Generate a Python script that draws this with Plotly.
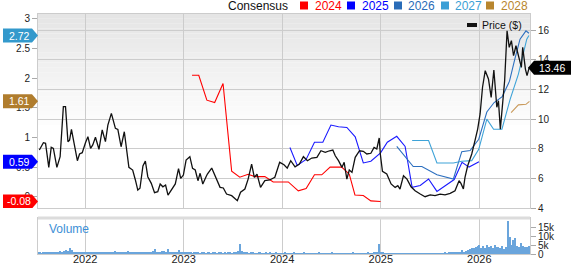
import plotly.graph_objects as go
import pandas as pd

# ---------------- data ----------------
price_dates = [
    "2021-07-15","2021-07-30","2021-08-07","2021-08-19","2021-08-28","2021-09-05","2021-09-18","2021-09-30",
    "2021-10-12","2021-10-20","2021-10-29","2021-11-04","2021-11-11","2021-11-22","2021-12-03","2021-12-11",
    "2021-12-21","2022-01-02","2022-01-11","2022-01-21","2022-01-29","2022-02-08","2022-02-21","2022-03-05",
    "2022-03-17","2022-03-26","2022-04-08","2022-04-23","2022-05-02","2022-05-14","2022-05-26","2022-06-12",
    "2022-06-26","2022-07-06","2022-07-15","2022-07-23","2022-08-03","2022-08-12","2022-08-21","2022-09-03",
    "2022-09-15","2022-09-27","2022-10-06","2022-10-16","2022-10-26","2022-11-04","2022-11-15","2022-12-01",
    "2022-12-13","2022-12-21","2022-12-31","2023-01-10","2023-01-24","2023-02-03","2023-02-13","2023-02-23",
    "2023-03-03","2023-03-13","2023-03-25","2023-03-30","2023-04-15","2023-05-04","2023-05-16","2023-05-28",
    "2023-06-09","2023-06-28","2023-07-19","2023-07-31","2023-08-16","2023-08-28","2023-09-10","2023-09-20",
    "2023-09-30","2023-10-13","2023-10-29","2023-11-16","2023-12-05","2023-12-23","2024-01-08","2024-01-20",
    "2024-02-02","2024-02-18","2024-03-05","2024-03-20","2024-04-04","2024-04-20","2024-05-09","2024-05-24",
    "2024-06-09","2024-06-25","2024-07-07","2024-07-16","2024-07-28","2024-08-10","2024-08-18","2024-08-28",
    "2024-09-06","2024-09-16","2024-09-28","2024-10-14","2024-10-28","2024-11-10","2024-11-25","2024-12-07",
    "2024-12-17","2024-12-26","2024-12-30","2025-01-07","2025-01-23","2025-02-08","2025-02-23","2025-03-05",
    "2025-03-13","2025-03-26","2025-04-08","2025-04-23","2025-05-08","2025-05-27","2025-06-14","2025-07-03",
    "2025-07-21","2025-08-09","2025-08-27","2025-09-15","2025-10-03","2025-10-18","2025-10-25","2025-11-03",
    "2025-11-09","2025-11-19","2025-12-04","2025-12-16","2025-12-26","2026-01-04","2026-01-13","2026-01-23",
    "2026-02-04","2026-02-14","2026-02-24","2026-03-07","2026-03-13","2026-03-20","2026-03-28","2026-04-05",
    "2026-04-14","2026-04-22","2026-04-30","2026-05-08","2026-05-17","2026-05-29","2026-06-06","2026-06-11",
    "2026-06-21","2026-06-27","2026-07-05",
]
price_vals = [
    7.91,8.40,8.36,6.74,8.09,8.02,6.74,7.46,
    10.83,10.83,8.47,8.58,9.30,8.13,7.19,7.64,
    7.73,8.40,8.81,8.02,8.25,8.77,7.96,9.26,
    8.47,9.59,10.38,9.37,9.30,8.13,9.14,6.74,
    6.56,5.89,5.21,5.33,6.83,7.17,6.11,5.66,
    5.03,5.10,5.62,5.43,5.55,4.87,5.21,5.62,
    6.65,6.00,6.22,7.23,7.46,6.67,6.56,5.84,
    6.34,5.62,6.11,6.29,6.69,5.84,5.39,5.35,
    4.94,4.83,4.49,5.06,5.28,5.95,6.96,6.07,
    6.29,5.39,5.84,5.89,6.07,7.08,6.92,6.69,
    7.19,6.78,6.96,7.46,7.19,7.37,7.42,7.86,
    7.75,7.86,7.91,7.52,7.19,6.74,7.08,5.95,
    6.56,6.40,7.42,7.86,7.82,7.64,7.69,8.09,
    7.98,8.72,7.64,6.47,6.29,5.62,5.39,5.50,
    5.28,6.18,5.95,5.43,5.16,4.94,4.76,4.89,
    4.83,4.94,4.89,4.99,5.16,5.84,5.66,5.28,
    6.07,6.85,7.64,8.54,9.32,10.34,12.14,13.26,
    12.70,11.46,13.30,10.79,11.23,9.32,10.79,12.58,
    15.95,14.83,15.28,14.27,14.94,14.16,13.48,14.83,
    13.37,12.92,13.46,
]

eps24_dates = ["2023-02-01","2023-02-26","2023-03-28","2023-04-26","2023-05-27","2023-06-28","2023-07-28",
               "2023-08-28","2023-09-22","2023-10-29","2023-11-29","2024-01-24","2024-03-01","2024-03-30",
               "2024-04-30","2024-05-27","2024-06-27","2024-08-09","2024-09-06","2024-09-27","2024-10-28",
               "2024-11-25","2024-12-31"]
eps24_vals = [2.05,2.05,1.63,1.59,1.91,0.43,0.33,0.38,0.34,0.34,0.25,0.25,0.10,0.14,0.37,0.37,0.50,0.50,
              0.38,0.03,0.02,-0.07,-0.08]

eps25_dates = ["2024-01-30","2024-02-26","2024-03-30","2024-04-30","2024-05-31","2024-06-30","2024-07-28",
               "2024-08-28","2024-09-28","2024-10-28","2024-11-25","2024-12-31","2025-01-25","2025-03-01",
               "2025-04-01","2025-04-27","2025-05-27","2025-06-27","2025-07-28","2025-08-27","2025-09-30",
               "2025-10-29","2025-11-24","2025-12-31"]
eps25_vals = [0.83,0.53,0.63,0.92,0.92,1.21,1.18,1.17,1.01,0.57,0.60,0.74,0.92,1.02,0.85,0.16,0.19,0.30,
              0.09,0.19,0.29,0.58,0.50,0.59]

eps26_dates = ["2025-03-01","2025-05-01","2025-06-02","2025-07-28","2025-09-27","2025-10-28","2025-11-28",
               "2025-12-30","2026-01-29","2026-02-25","2026-03-27","2026-04-23","2026-05-12","2026-06-01",
               "2026-06-23","2026-07-04"]
eps26_vals = [0.85,0.51,0.51,0.37,0.30,0.76,0.78,0.97,1.43,1.59,1.69,1.95,2.31,2.66,2.80,2.76]

eps27_dates = ["2025-04-27","2025-06-27","2025-07-28","2025-09-27","2025-10-28","2025-12-04","2025-12-30",
               "2026-01-29","2026-02-23","2026-03-26","2026-04-25","2026-05-26","2026-06-26","2026-07-04"]
eps27_vals = [0.95,0.95,0.57,0.57,0.60,0.61,0.80,1.31,1.14,1.14,1.64,2.07,2.66,2.72]

eps28_dates = ["2026-04-29","2026-05-26","2026-06-23","2026-07-06"]
eps28_vals = [1.42,1.55,1.56,1.61]

vol_start = "2021-07-09"
volume_k = [
    # 2021
    0.6,0.8,0.5,1.0,0.7,0.9,0.6,1.2,0.8,1.0,1.1,0.9,1.4,1.2,1.9,2.2,1.6,3.1,2.4,1.3,1.0,1.1,0.7,0.9,1.2,
    # 2022
    0.9,0.7,1.0,0.8,1.3,0.6,0.9,1.1,0.7,0.8,1.2,0.9,0.6,1.0,0.8,0.7,1.4,0.9,0.6,0.8,
    1.1,0.7,0.9,1.5,1.0,0.8,1.2,0.7,0.6,0.9,1.0,0.8,1.3,1.1,0.7,1.2,1.4,2.6,1.2,0.9,
    1.0,1.4,1.8,1.1,2.8,1.0,0.8,0.7,1.0,1.2,2.0,0.9,
    # 2023
    0.7,0.9,0.6,0.8,1.0,0.5,0.7,1.2,0.6,0.5,0.8,0.7,0.4,0.6,0.9,0.5,0.7,0.6,0.5,0.8,
    0.6,0.4,0.7,0.5,0.6,0.8,0.5,0.7,1.0,1.6,5.4,1.5,0.9,0.7,0.6,0.5,0.8,0.6,0.4,0.5,
    0.7,0.6,0.5,0.4,0.6,0.5,0.7,0.4,0.5,0.6,0.5,0.4,
    # 2024
    0.5,0.4,0.6,0.5,0.3,0.4,0.5,0.6,0.4,0.3,0.5,0.4,0.6,0.5,0.3,0.4,0.5,0.4,0.3,0.5,
    0.6,0.4,0.3,0.4,0.5,0.3,0.4,0.6,0.5,0.4,0.3,0.5,0.4,0.3,0.4,0.5,0.3,0.4,0.6,0.4,
    0.3,0.5,0.4,0.5,0.3,0.4,0.6,0.4,0.5,0.7,0.6,0.8,5.4,
    # 2025
    1.0,0.6,0.5,0.4,0.3,0.5,0.4,0.3,0.4,0.5,0.3,0.4,0.5,0.3,0.4,0.3,0.5,0.4,0.3,0.4,
    0.3,0.5,0.4,0.3,0.4,0.3,0.4,0.5,0.3,0.4,0.3,0.4,0.5,0.4,0.6,0.5,0.7,0.9,0.6,0.8,
    1.0,0.7,1.1,2.0,1.2,1.6,2.3,2.8,3.4,3.2,3.9,4.6,
    # 2026
    4.8,3.6,4.2,3.1,5.0,3.7,4.4,3.3,4.9,3.8,4.1,3.5,4.6,3.0,3.9,18.3,9.3,5.2,7.8,8.8,
    4.4,3.9,5.9,4.3,3.8,4.1,4.7,
]
vol_dates = pd.date_range(vol_start, periods=len(volume_k), freq="7D")

legend_years = ["2024", "2025", "2026", "2027", "2028"]
left_ticks = [0, 0.5, 1, 1.5, 2, 2.5, 3]
right_ticks = [4, 6, 8, 10, 12, 14, 16]
vol_ticks = [0, 5, 10, 15]
vol_ticktext = ["0", "5k", "10k", "15k"]

# ---------------- styling ----------------
FONT = "Liberation Sans, Arial, sans-serif"
C24, C25, C26, C27, C28 = "#ff0000", "#1a1aff", "#2c6fbf", "#3ea3d8", "#c99a5b"
LEG = {"2024": "#ff0000", "2025": "#0000ff", "2026": "#2a6cb8", "2027": "#3a9fd6", "2028": "#b8862e"}
GRID = "#cccccc"
X_RANGE = ["2021-07-10", "2026-07-08"]

fig = go.Figure()

fig.add_trace(go.Bar(x=vol_dates, y=volume_k, xaxis="x2", yaxis="y3",
                     marker=dict(color="#6aa5dc", line=dict(width=0)),
                     width=4.5 * 86400000, hoverinfo="skip"))

for d, v, c in [(eps24_dates, eps24_vals, C24), (eps25_dates, eps25_vals, C25),
                (eps26_dates, eps26_vals, C26), (eps27_dates, eps27_vals, C27),
                (eps28_dates, eps28_vals, C28)]:
    fig.add_trace(go.Scatter(x=d, y=v, mode="lines", xaxis="x", yaxis="y",
                             line=dict(color=c, width=1.1), hoverinfo="skip"))

fig.add_trace(go.Scatter(x=price_dates, y=price_vals, mode="lines", xaxis="x", yaxis="y2",
                         line=dict(color="#111111", width=1.3), hoverinfo="skip"))

shapes = []
nb = 24
for i in range(nb):
    top = 1 - i * 0.6 / nb
    bot = 1 - (i + 1) * 0.6 / nb
    g = int(229 + (255 - 229) * i / (nb - 1))
    shapes.append(dict(type="rect", xref="x domain", yref="y domain", x0=0, x1=1, y0=bot, y1=top,
                       fillcolor=f"rgb({g},{g},{g})", line=dict(width=0), layer="below"))
shapes.append(dict(type="line", xref="x2 domain", yref="y3 domain", x0=0, x1=1, y0=1.0, y1=1.0,
                   line=dict(color="#dcdcdc", width=3), layer="above"))

annotations = []
PX_L, PX_W, PY_B, PY_H = 38, 492, 254, 240
def px(xp): return (xp - PX_L) / PX_W
def py(yp): return (PY_B - yp) / PY_H

annotations.append(dict(text="Consensus", xref="paper", yref="paper", x=px(226), y=py(5.5),
                        xanchor="left", yanchor="middle", showarrow=False,
                        font=dict(family=FONT, size=12, color="#111")))
sq_left = [300, 347, 394, 441, 486]
tx_left = [313, 360, 406, 453, 499]
for yr, sl, tl in zip(legend_years, sq_left, tx_left):
    shapes.append(dict(type="rect", xref="paper", yref="paper", x0=px(sl), x1=px(sl + 8),
                       y0=py(9.5), y1=py(1.5), fillcolor=LEG[yr], line=dict(width=0)))
    annotations.append(dict(text=yr, xref="paper", yref="paper", x=px(tl), y=py(5.5),
                            xanchor="left", yanchor="middle", showarrow=False,
                            font=dict(family=FONT, size=12, color=LEG[yr])))

shapes.append(dict(type="rect", xref="paper", yref="paper", x0=px(467), x1=px(477),
                   y0=py(27), y1=py(23), fillcolor="#111", line=dict(width=0)))
annotations.append(dict(text="Price ($)", xref="paper", yref="paper", x=px(480), y=py(25),
                        xanchor="left", yanchor="middle", showarrow=False,
                        font=dict(family=FONT, size=10.5, color="#111")))

annotations.append(dict(text="Volume", xref="paper", yref="paper", x=px(47), y=py(229),
                        xanchor="left", yanchor="middle", showarrow=False,
                        font=dict(family=FONT, size=12, color="#3d8fd6")))

for val, col in [(eps24_vals[-1], "#ff0000"), (eps25_vals[-1], "#0000ff"),
                 (eps28_vals[-1], "#b07d2e"), (eps27_vals[-1], "#3399cc")]:
    shapes.append(dict(type="path", xref="paper", yref="y", xsizemode="pixel", ysizemode="pixel",
                       xanchor=0, yanchor=val, path="M-35,-7 L-6,-7 L0,0 L-6,7 L-35,7 Z",
                       fillcolor=col, line=dict(width=0), layer="above"))
    annotations.append(dict(text=f"{val:.2f}", xref="paper", yref="y", x=0, y=val, xanchor="center",
                            yanchor="middle", xshift=-19, showarrow=False,
                            font=dict(family=FONT, size=10.5, color="white")))

last_price = price_vals[-1]
shapes.append(dict(type="path", xref="paper", yref="y2", xsizemode="pixel", ysizemode="pixel",
                   xanchor=1, yanchor=last_price, path="M-2,0 L4,-7 L41,-7 L41,7 L4,7 Z",
                   fillcolor="#000", line=dict(width=0), layer="above"))
annotations.append(dict(text=f"{last_price:.2f}", xref="paper", yref="y2", x=1, y=last_price,
                        xanchor="center", yanchor="middle", xshift=22, showarrow=False,
                        font=dict(family=FONT, size=10.5, color="white")))

tickfont = dict(family=FONT, size=10, color="#222")
fig.update_layout(
    width=571, height=264,
    margin=dict(l=38, r=41, t=14, b=10, autoexpand=False),
    paper_bgcolor="white", plot_bgcolor="white",
    showlegend=False,
    bargap=0,
    xaxis=dict(domain=[0, 1], anchor="y", type="date", range=X_RANGE, showticklabels=False,
               showgrid=True, gridcolor=GRID, gridwidth=1, dtick="M12", tick0="2022-01-01",
               showline=True, mirror=True, linecolor=GRID, ticks="", zeroline=False,
               automargin=False),
    yaxis=dict(domain=[46 / 240, 1], range=[-0.19, 3.084], tickvals=left_ticks,
               ticktext=[f"{t:g}" for t in left_ticks], ticks="outside", ticklen=5,
               tickcolor="#aaaaaa", showgrid=False, zeroline=False, showline=True,
               linecolor=GRID, tickfont=tickfont, automargin=False),
    yaxis2=dict(overlaying="y", side="right", anchor="x", range=[4, 17.08], tickvals=right_ticks,
                ticks="outside", ticklen=5, tickcolor="#aaaaaa", showgrid=True, gridcolor=GRID,
                zeroline=False, showline=True, linecolor=GRID, tickfont=tickfont, automargin=False),
    xaxis2=dict(domain=[0, 1], anchor="y3", matches="x", type="date", showgrid=True,
                gridcolor=GRID, dtick="M12", tick0="2022-01-01", tickformat="%Y", ticks="",
                showline=True, mirror=True, linecolor=GRID, zeroline=False, automargin=False,
                ticklabelstandoff=-5,
                tickfont=dict(family=FONT, size=11, color="#222")),
    yaxis3=dict(domain=[0, 36 / 240], anchor="x2", side="right", range=[0, 20],
                tickvals=vol_ticks, ticktext=vol_ticktext, ticks="outside", ticklen=5,
                tickcolor="#aaaaaa", showgrid=False, zeroline=False, showline=True, mirror=True,
                linecolor=GRID, tickfont=tickfont, automargin=False),
    shapes=shapes,
    annotations=annotations,
)

fig.write_html("out.html")
